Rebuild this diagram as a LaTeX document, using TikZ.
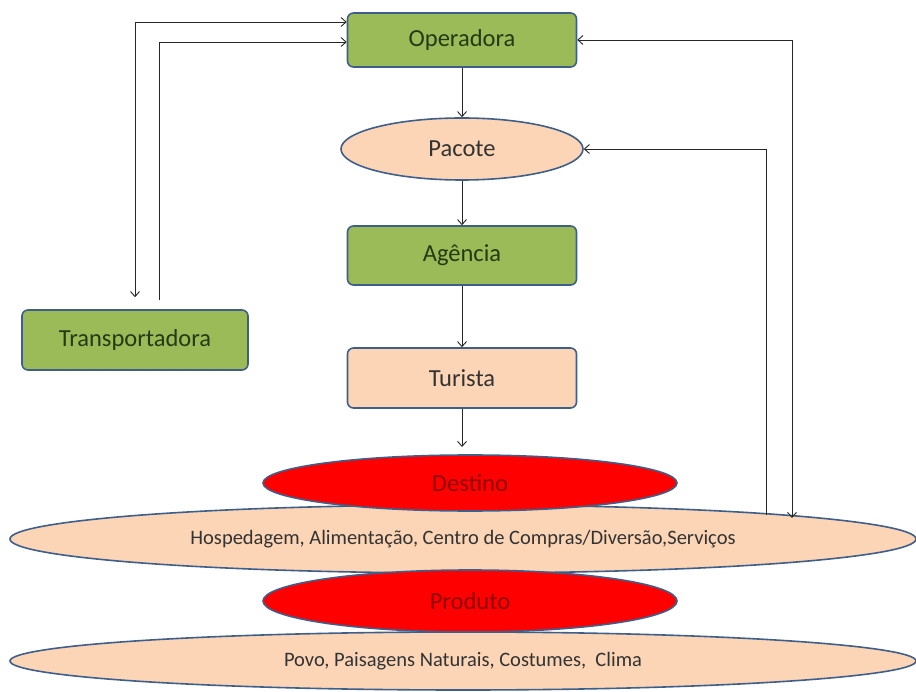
\documentclass[tikz,border=0pt]{standalone}
\usepackage{fontspec}
\setmainfont{Carlito}
\usetikzlibrary{shapes.geometric,arrows.meta}
\definecolor{olive}{HTML}{9BBB59}
\definecolor{peach}{HTML}{FBD5B5}
\definecolor{edge}{HTML}{3F5F8A}
\definecolor{greentext}{HTML}{243A14}
\definecolor{redtext}{HTML}{900000}
\definecolor{graytext}{HTML}{333333}
\tikzset{
  bigfont/.style={font=\fontsize{24.5}{28}\selectfont},
  smallfont/.style={font=\fontsize{20.5}{24}\selectfont},
  greenbox/.style={draw=edge, line width=1.6pt, fill=olive, rounded corners=6pt,
    text=greentext, bigfont},
  peachbox/.style={draw=edge, line width=1.6pt, fill=peach, rounded corners=6pt,
    text=graytext, bigfont},
  peachoval/.style={ellipse, draw=edge, line width=1.6pt, fill=peach, text=graytext},
  redoval/.style={ellipse, draw=edge, line width=1.6pt, fill=red, text=redtext, bigfont},
  link/.style={line width=0.9pt, draw=black!85, -{Straight Barb[length=5pt,width=9pt]}},
  twoway/.style={line width=0.9pt, draw=black!85,
    {Straight Barb[length=5pt,width=9pt]}-{Straight Barb[length=5pt,width=9pt]}},
}
\begin{document}
\begin{tikzpicture}[x=1pt,y=-1pt]
\useasboundingbox (0,0) rectangle (916,692);
% main chain
\node[greenbox, minimum width=229, minimum height=54] (oper) at (462,40) {Operadora};
\node[peachoval, minimum width=242, minimum height=62, bigfont] (pac) at (462,149) {Pacote};
\node[greenbox, minimum width=229, minimum height=59] (ag) at (462,255.5) {Agência};
\node[peachbox, minimum width=229, minimum height=60] (tur) at (462,378) {Turista};
\node[greenbox, minimum width=226, minimum height=60] (trans) at (135,340) {Transportadora};
% destination and product layers
\node[peachoval, minimum width=906, minimum height=68, smallfont] (hosp) at (463,539)
  {Hospedagem, Alimentação, Centro de Compras/Diversão,Serviços};
\node[redoval, minimum width=414, minimum height=56] (dest) at (470,483) {Destino};
\node[peachoval, minimum width=906, minimum height=58, smallfont] (povo) at (463,661)
  {Povo, Paisagens Naturais, Costumes,\ \ Clima};
\node[redoval, minimum width=414, minimum height=62] (prod) at (470,601) {Produto};
% helper points
\coordinate (t1) at (135,22);
\coordinate (t2) at (159,42);
\coordinate (r1) at (792,40);
\coordinate (r2) at (766,149);
\coordinate (hA) at (792,518);
\coordinate (hB) at (766,515);
\coordinate (dtop) at (462,447);
% vertical flow
\draw[link] (oper) -- (pac);
\draw[link] (pac) -- (ag);
\draw[link] (ag) -- (tur);
\draw[link] (tur.south) -- (dtop);
% transport loops
\draw[twoway] ([yshift=12pt]trans.north) |- (oper.west |- t1);
\draw[link] ([xshift=24pt,yshift=9pt]trans.north) |- (oper.west |- t2);
% feedback from the destination
\draw[twoway] (oper.east) -- (r1) -- (hA);
\draw[link] (hB) -- (r2) -- (pac.east);
\end{tikzpicture}
\end{document}
